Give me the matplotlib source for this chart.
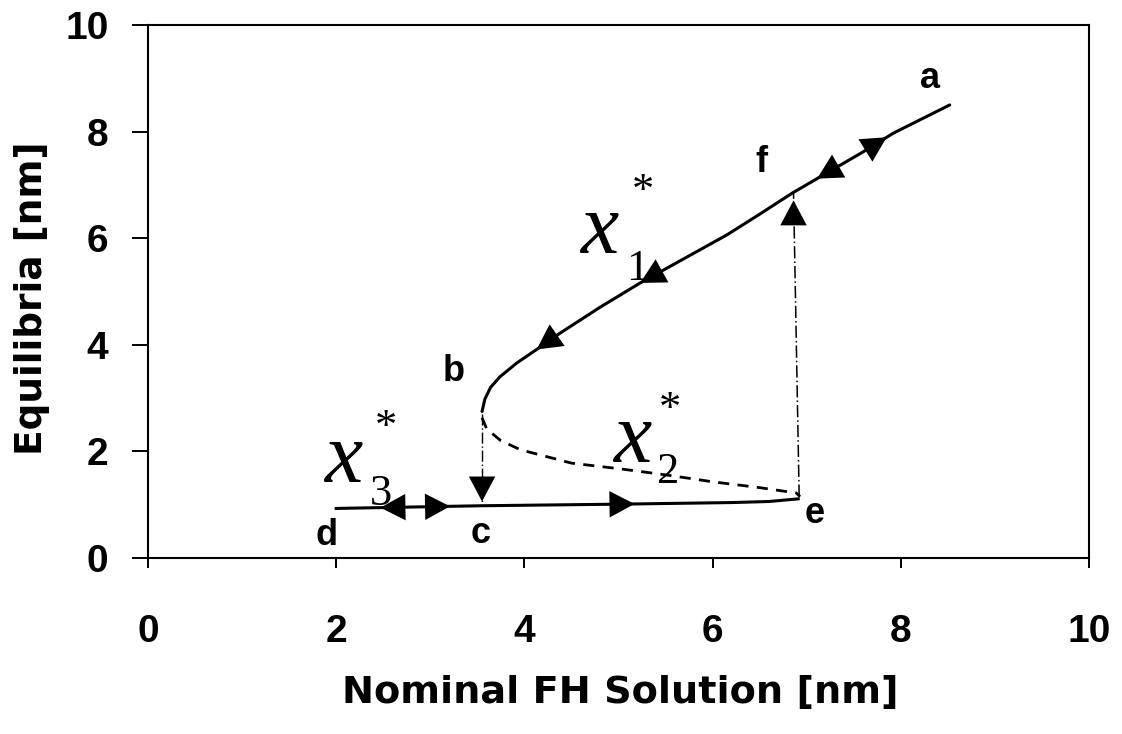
import numpy as np
import matplotlib
matplotlib.use("Agg")
import matplotlib.pyplot as plt

# ---- data ----
# upper stable branch x1*
x1_nom = [3.55, 3.58, 3.64, 3.74, 3.92, 4.17, 4.38, 4.8, 5.23, 5.7, 6.15, 6.5, 6.85, 7.21, 7.6, 7.92, 8.52]
x1_eq = [2.75, 2.98, 3.2, 3.4, 3.66, 3.96, 4.22, 4.7, 5.16, 5.62, 6.06, 6.45, 6.85, 7.22, 7.62, 7.97, 8.50]
# unstable middle branch x2*
x2_nom = [3.55, 3.6, 3.75, 3.96, 4.5, 5.03, 5.5, 6.0, 6.5, 6.89, 6.93]
x2_eq = [2.63, 2.42, 2.2, 2.03, 1.78, 1.67, 1.56, 1.43, 1.32, 1.22, 1.15]
# lower stable branch x3*
x3_nom = [2.0, 3.53, 5.0, 6.2, 6.6, 6.91]
x3_eq = [0.93, 0.98, 1.01, 1.04, 1.06, 1.11]
# jumps
jump_down_nom = [3.55, 3.55]
jump_down_eq = [2.7, 0.98]
jump_up_nom = [6.92, 6.86]
jump_up_eq = [1.15, 6.85]

# arrow tips on branches: x position and direction (+1 right / -1 left)
x1_arrow_x = [4.13, 5.23, 7.11, 7.85]
x1_arrow_dir = [-1, -1, -1, 1]
x3_arrow_x = [2.47, 3.21, 5.17]
x3_arrow_dir = [-1, 1, 1]
# vertical arrows: (x, tip y, base y)
vert_arrows = [(3.55, 1.06, 1.5), (6.86, 6.71, 6.28)]

point_labels = ["a", "b", "c", "d", "e", "f"]
point_nom = [8.31, 3.25, 3.54, 1.90, 7.09, 6.52]
point_eq = [8.82, 3.33, 0.28, 0.24, 0.66, 7.24]

xticks = [0, 2, 4, 6, 8, 10]
yticks = [0, 2, 4, 6, 8, 10]

W, H = 1122, 734
fig = plt.figure(figsize=(W / 100, H / 100), dpi=100)
ax = fig.add_axes([148 / W, 1 - 558 / H, (1089 - 148) / W, (558 - 25) / H])

lw = 2.2
ax.plot(x1_nom, x1_eq, color="k", lw=lw, solid_capstyle="round")
ax.plot(x2_nom, x2_eq, color="k", lw=2.0, linestyle=(0, (4, 3)))
ax.plot(x3_nom, x3_eq, color="k", lw=lw)
ax.plot(jump_down_nom, jump_down_eq, color="k", lw=1.0, linestyle=(0, (8, 2, 1, 2)))
ax.plot(jump_up_nom, jump_up_eq, color="k", lw=1.1, linestyle=(0, (8, 2, 1, 2)))

ah = dict(arrowstyle="-|>,head_length=18,head_width=9.5", mutation_scale=1,
          color="k", lw=0, shrinkA=0, shrinkB=0)


def branch_arrow(xs, ys, xt, d):
    yt = np.interp(xt, xs, ys)
    xb = xt - d * 0.25
    yb = np.interp(xb, xs, ys)
    ax.annotate("", xy=(xt, yt), xytext=(xb, yb), arrowprops=ah)


for xt, d in zip(x1_arrow_x, x1_arrow_dir):
    branch_arrow(x1_nom, x1_eq, xt, d)
for xt, d in zip(x3_arrow_x, x3_arrow_dir):
    branch_arrow(x3_nom, x3_eq, xt, d)
for xv, yt, yb in vert_arrows:
    ax.annotate("", xy=(xv, yt), xytext=(xv, yb), arrowprops=ah)

bold = dict(family="Liberation Sans", weight="bold", fontsize=26)
for lab, xn, ye in zip(point_labels, point_nom, point_eq):
    ax.text(xn, ye, lab, ha="center", va="baseline", **bold)

serif = dict(family="Liberation Serif", color="k")
for (xx, yx), (xs, ys), (xa, ya), sub in [
    ((4.79, 5.72), (5.20, 5.22), (5.26, 6.66), "1"),
    ((2.07, 1.43), (2.48, 0.99), (2.53, 2.23), "3"),
    ((5.15, 1.80), (5.53, 1.41), (5.55, 2.57), "2"),
]:
    ax.text(xx, yx, "x", style="italic", fontsize=62, ha="center", va="baseline", **serif)
    ax.text(xs, ys, sub, fontsize=32, ha="center", va="baseline", **serif)
    ax.text(xa, ya, "*", fontsize=32, ha="center", va="baseline", **serif)

ax.set_xlim(0, 10)
ax.set_ylim(0, 10)
ax.set_xticks(xticks)
ax.set_yticks(yticks)
ax.set_xticklabels([str(t) for t in xticks], family="Liberation Sans", weight="bold", fontsize=28)
ax.set_yticklabels([str(t) for t in yticks], family="Liberation Sans", weight="bold", fontsize=28)
ax.tick_params(axis="x", direction="out", length=7.5, width=1.4, pad=33)
ax.tick_params(axis="y", direction="out", length=11.5, width=1.4, pad=17)
for s in ax.spines.values():
    s.set_linewidth(1.5)

fig.text(620 / W, 1 - 693 / H, "Nominal FH Solution [nm]", ha="center", va="center",
         family="DejaVu Sans", weight="bold", fontsize=27.5)
fig.text(32 / W, 1 - 298 / H, "Equilibria [nm]", ha="center", va="center", rotation=90,
         family="DejaVu Sans", weight="bold", fontsize=27)

fig.savefig("out.png", dpi=100)
